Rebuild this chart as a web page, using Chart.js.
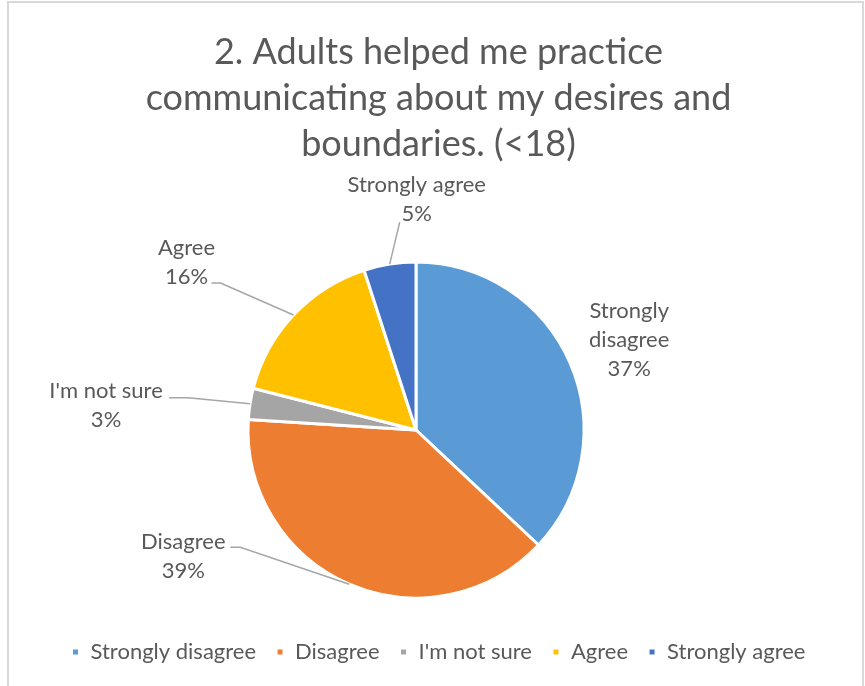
<!DOCTYPE html>
<html>
<head>
<meta charset="utf-8">
<script src="https://cdn.jsdelivr.net/npm/chart.js@4.4.1/dist/chart.umd.min.js"></script>
<style>
  html, body { margin: 0; padding: 0; background: #fff; }
</style>
</head>
<body>
<canvas id="chart-pie" width="865" height="686"></canvas>
<script>
const titleLines = ["2. Adults helped me practice", "communicating about my desires and", "boundaries. (<18)"];
const categories = ["Strongly disagree", "Disagree", "I'm not sure", "Agree", "Strongly agree"];
const shares = [37, 39, 3, 16, 5];
const sliceColors = ["#5b9bd5", "#ed7d31", "#a5a5a5", "#ffc000", "#4472c4"];

// where each data label sits, relative to the middle of its slice's rim,
// and where its leader line starts, relative to the label centre
const labelOffsets = [[59, -23], [-166, -27.5], [-144, 2], [-107, -52.5], [27, -64.5]];
const leaderStarts = [null, [47, -9.5], [63, -8], [25, 20.5], [-17, 22.5]];
const leaderElbows = [0, 10, 19, 9, 0];
const wrapLabel = [true, false, false, false, false];

const textColor = "#595959";
const fontFamily = "Lato, 'Open Sans', sans-serif";

const framePlugin = {
  id: "frame",
  beforeDraw(chart) {
    const { ctx, width, height } = chart;
    ctx.save();
    ctx.fillStyle = "#ffffff";
    ctx.fillRect(0, 0, width, height);
    ctx.strokeStyle = "#d9d9d9";
    ctx.lineWidth = 2;
    ctx.strokeRect(8, 2, 855, height + 10);
    ctx.restore();
  },
};

const sliceLabels = {
  id: "sliceLabels",
  afterDatasetsDraw(chart) {
    const { ctx } = chart;
    const arcs = chart.getDatasetMeta(0).data;
    const values = chart.data.datasets[0].data;
    const total = values.reduce((a, b) => a + b, 0);
    ctx.save();
    ctx.font = "22px " + fontFamily;
    ctx.fillStyle = textColor;
    ctx.textAlign = "center";
    ctx.textBaseline = "middle";
    arcs.forEach((arc, i) => {
      const { x, y, startAngle, endAngle, outerRadius } = arc.getProps(
        ["x", "y", "startAngle", "endAngle", "outerRadius"], true);
      const mid = (startAngle + endAngle) / 2;
      const ex = x + Math.cos(mid) * outerRadius;
      const ey = y + Math.sin(mid) * outerRadius;
      const cx = ex + labelOffsets[i][0];
      const cy = ey + labelOffsets[i][1];

      const name = chart.data.labels[i];
      const lines = wrapLabel[i] ? name.split(" ") : [name];
      lines.push(Math.round((values[i] / total) * 100) + "%");
      const lh = 29;
      const top = cy - ((lines.length - 1) * lh) / 2;
      lines.forEach((t, k) => ctx.fillText(t, cx, top + k * lh));

      if (leaderStarts[i]) {
        const sx = cx + leaderStarts[i][0];
        const sy = cy + leaderStarts[i][1];
        ctx.beginPath();
        ctx.strokeStyle = "#a6a6a6";
        ctx.lineWidth = 1.5;
        ctx.moveTo(sx, sy);
        ctx.lineTo(sx + leaderElbows[i], sy);
        ctx.lineTo(ex, ey);
        ctx.stroke();
      }
    });
    ctx.restore();
  },
};

const ctx = document.getElementById("chart-pie").getContext("2d");
new Chart(ctx, {
  type: "pie",
  data: {
    labels: categories,
    datasets: [
      {
        data: shares,
        backgroundColor: sliceColors,
        borderColor: "#ffffff",
        borderWidth: 3,
        radius: 168,
      },
    ],
  },
  options: {
    responsive: false,
    animation: false,
    layout: { padding: { top: 0, bottom: 13, left: 12, right: 0 } },
    plugins: {
      title: {
        display: true,
        text: titleLines,
        color: textColor,
        font: { family: fontFamily, size: 36, weight: "normal", lineHeight: 46 / 36 },
        padding: { top: 29, bottom: 72 },
      },
      // empty box on the right pushes the pie a little left of centre
      subtitle: {
        display: true,
        position: "right",
        text: "",
        font: { size: 1, lineHeight: 1 },
        padding: { top: 0, bottom: 44 },
      },
      legend: {
        position: "bottom",
        labels: {
          color: textColor,
          font: { family: fontFamily, size: 22 },
          boxWidth: 8,
          boxHeight: 8,
          padding: 20,
        },
      },
      tooltip: { enabled: false },
    },
  },
  plugins: [framePlugin, sliceLabels],
});
</script>
</body>
</html>
